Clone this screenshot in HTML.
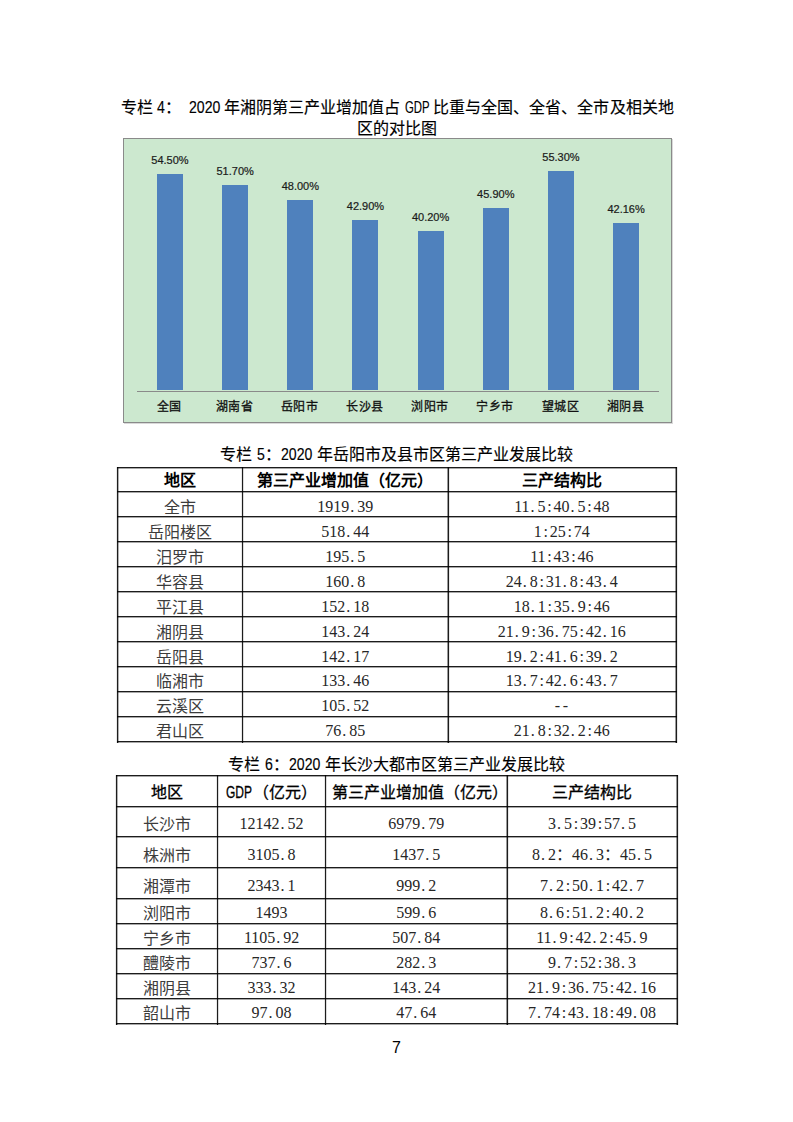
<!DOCTYPE html>
<html lang="zh-CN"><head><meta charset="utf-8">
<style>
*{margin:0;padding:0;box-sizing:border-box}
html,body{width:793px;height:1122px;background:#fff;overflow:hidden}
body{position:relative;font-family:"Liberation Sans",sans-serif;color:#000}
.abs{position:absolute;white-space:nowrap}
.t{font-size:16px;line-height:16px;-webkit-text-stroke:0.15px #000}
.d{display:inline-block;font-size:16px;transform:scaleX(.88);transform-origin:0 0;position:relative;top:-0.5px}
.d1{margin-right:-1.07px}.d4{margin-right:-4.27px}
.chart{position:absolute;left:123px;top:138px;width:549px;height:285px;background:#cce8cf;border:1px solid #8a8a8a;box-shadow:1px 1px 0 rgba(0,0,0,.15)}
.bar{position:absolute;background:#4f81bd}
.vl{position:absolute;font-size:11px;line-height:11px;color:#1a1a1a;-webkit-text-stroke:0.2px #1a1a1a;text-align:center;width:60px}
.cl{position:absolute;font-size:12px;line-height:12px;color:#111;-webkit-text-stroke:0.3px #111;letter-spacing:0.5px;text-align:center;width:64px}
.hl{position:absolute;background:linear-gradient(rgba(0,0,0,.89) 50%,rgba(0,0,0,.34) 50%);height:2px}
.vln{position:absolute;background:rgba(0,0,0,.89);width:1px}
.cell{position:absolute;display:flex;align-items:center;justify-content:center;font-size:16px;line-height:16px;white-space:nowrap}
.ser{font-family:"Liberation Serif",serif;color:#262626}
.b{font-weight:bold}
.sh{-webkit-text-stroke:0.3px #000}
.lft{justify-content:flex-start;padding-left:6px}
i.p{display:inline-block;width:8px;text-align:left;padding-left:1px;font-style:normal}
b.cj{font-weight:normal;color:#3c3c3c}
i.pc{display:inline-block;width:8px;text-align:center;font-style:normal}
i.fc{display:inline-block;width:16px;text-align:left;font-style:normal}
</style></head><body>

<div class="abs t" style="left:120.5px;top:100px">专栏 <span class="d d1">4</span>：</div>
<div class="abs t" style="left:188.5px;top:100px"><span class="d d4">2020</span> 年湘阴第三产业增加值占</div>
<div class="abs t" style="left:405px;top:100px"><span class="d" style="transform:scaleX(0.71)">GDP</span></div>
<div class="abs t" style="left:432.5px;top:100px;letter-spacing:0.1px">比重与全国、全省、全市及相关地</div>
<div class="abs t" style="left:0;width:793px;text-align:center;top:121px">区的对比图</div>
<div class="chart"></div>
<div class="bar" style="left:156.98px;top:174.03px;width:26.00px;height:216.47px"></div>
<div class="vl" style="left:139.98px;top:155.23px">54.50%</div>
<div class="cl" style="left:137.38px;top:400.50px">全国</div>
<div class="bar" style="left:222.14px;top:185.15px;width:26.00px;height:205.35px"></div>
<div class="vl" style="left:205.14px;top:166.35px">51.70%</div>
<div class="cl" style="left:202.54px;top:400.50px">湖南省</div>
<div class="bar" style="left:287.30px;top:199.84px;width:26.00px;height:190.66px"></div>
<div class="vl" style="left:270.30px;top:181.04px">48.00%</div>
<div class="cl" style="left:267.70px;top:400.50px">岳阳市</div>
<div class="bar" style="left:352.46px;top:220.10px;width:26.00px;height:170.40px"></div>
<div class="vl" style="left:335.46px;top:201.30px">42.90%</div>
<div class="cl" style="left:332.86px;top:400.50px">长沙县</div>
<div class="bar" style="left:417.62px;top:230.83px;width:26.00px;height:159.67px"></div>
<div class="vl" style="left:400.62px;top:212.03px">40.20%</div>
<div class="cl" style="left:398.02px;top:400.50px">浏阳市</div>
<div class="bar" style="left:482.78px;top:208.19px;width:26.00px;height:182.31px"></div>
<div class="vl" style="left:465.78px;top:189.39px">45.90%</div>
<div class="cl" style="left:463.18px;top:400.50px">宁乡市</div>
<div class="bar" style="left:547.94px;top:170.85px;width:26.00px;height:219.65px"></div>
<div class="vl" style="left:530.94px;top:152.05px">55.30%</div>
<div class="cl" style="left:528.34px;top:400.50px">望城区</div>
<div class="bar" style="left:613.10px;top:223.04px;width:26.00px;height:167.46px"></div>
<div class="vl" style="left:596.10px;top:204.24px">42.16%</div>
<div class="cl" style="left:593.50px;top:400.50px">湘阴县</div>
<div style="position:absolute;left:137px;top:391px;width:522px;height:1px;background:#8a8a8a"></div>
<div class="abs t" style="left:0;width:793px;text-align:center;top:447px">专栏 <span class="d d1">5</span>：<span class="d d4">2020</span> 年岳阳市及县市区第三产业发展比较</div>
<div class="hl" style="left:117px;top:467px;width:560px"></div>
<div class="hl" style="left:117px;top:491px;width:560px"></div>
<div class="hl" style="left:117px;top:516px;width:560px"></div>
<div class="hl" style="left:117px;top:541px;width:560px"></div>
<div class="hl" style="left:117px;top:566px;width:560px"></div>
<div class="hl" style="left:117px;top:591px;width:560px"></div>
<div class="hl" style="left:117px;top:616px;width:560px"></div>
<div class="hl" style="left:117px;top:641px;width:560px"></div>
<div class="hl" style="left:117px;top:666px;width:560px"></div>
<div class="hl" style="left:117px;top:691px;width:560px"></div>
<div class="hl" style="left:117px;top:716px;width:560px"></div>
<div class="hl" style="left:117px;top:741px;width:560px"></div>
<div class="vln" style="left:117px;top:467px;height:276px;box-shadow:1px 0 0 rgba(0,0,0,.31),-1px 0 0 rgba(0,0,0,.09)"></div>
<div class="vln" style="left:242px;top:467px;height:276px;box-shadow:1px 0 0 rgba(0,0,0,.14),-1px 0 0 rgba(0,0,0,.09)"></div>
<div class="vln" style="left:448px;top:467px;height:276px;box-shadow:-1px 0 0 rgba(0,0,0,.4),1px 0 0 rgba(0,0,0,.09)"></div>
<div class="vln" style="left:676px;top:467px;height:276px;box-shadow:-1px 0 0 rgba(0,0,0,.4),1px 0 0 rgba(0,0,0,.09)"></div>
<div class="cell b" style="left:117.5px;top:468.0px;width:125.1px;height:23.8px"><span style="position:relative;top:1.5px">地区</span></div>
<div class="cell b" style="left:242.6px;top:468.0px;width:205.3px;height:23.8px"><span style="position:relative;top:1.5px">第三产业增加值（亿元）</span></div>
<div class="cell b" style="left:447.9px;top:468.0px;width:227.9px;height:23.8px"><span style="position:relative;top:1.5px">三产结构比</span></div>
<div class="cell ser" style="left:117.5px;top:491.8px;width:125.1px;height:24.9px"><span style="position:relative;top:3.5px"><b class="cj">全市</b></span></div>
<div class="cell ser" style="left:242.6px;top:491.8px;width:205.3px;height:24.9px"><span style="position:relative;top:2.5px">1919<i class="p">.</i>39</span></div>
<div class="cell ser" style="left:447.9px;top:491.8px;width:227.9px;height:24.9px"><span style="position:relative;top:2.5px">11<i class="p">.</i>5<i class="pc">:</i>40<i class="p">.</i>5<i class="pc">:</i>48</span></div>
<div class="cell ser" style="left:117.5px;top:516.8px;width:125.1px;height:25.0px"><span style="position:relative;top:3.5px"><b class="cj">岳阳楼区</b></span></div>
<div class="cell ser" style="left:242.6px;top:516.8px;width:205.3px;height:25.0px"><span style="position:relative;top:2.5px">518<i class="p">.</i>44</span></div>
<div class="cell ser" style="left:447.9px;top:516.8px;width:227.9px;height:25.0px"><span style="position:relative;top:2.5px">1<i class="pc">:</i>25<i class="pc">:</i>74</span></div>
<div class="cell ser" style="left:117.5px;top:541.7px;width:125.1px;height:24.9px"><span style="position:relative;top:3.5px"><b class="cj">汨罗市</b></span></div>
<div class="cell ser" style="left:242.6px;top:541.7px;width:205.3px;height:24.9px"><span style="position:relative;top:2.5px">195<i class="p">.</i>5</span></div>
<div class="cell ser" style="left:447.9px;top:541.7px;width:227.9px;height:24.9px"><span style="position:relative;top:2.5px">11<i class="pc">:</i>43<i class="pc">:</i>46</span></div>
<div class="cell ser" style="left:117.5px;top:566.6px;width:125.1px;height:25.0px"><span style="position:relative;top:3.5px"><b class="cj">华容县</b></span></div>
<div class="cell ser" style="left:242.6px;top:566.6px;width:205.3px;height:25.0px"><span style="position:relative;top:2.5px">160<i class="p">.</i>8</span></div>
<div class="cell ser" style="left:447.9px;top:566.6px;width:227.9px;height:25.0px"><span style="position:relative;top:2.5px">24<i class="p">.</i>8<i class="pc">:</i>31<i class="p">.</i>8<i class="pc">:</i>43<i class="p">.</i>4</span></div>
<div class="cell ser" style="left:117.5px;top:591.6px;width:125.1px;height:24.9px"><span style="position:relative;top:3.5px"><b class="cj">平江县</b></span></div>
<div class="cell ser" style="left:242.6px;top:591.6px;width:205.3px;height:24.9px"><span style="position:relative;top:2.5px">152<i class="p">.</i>18</span></div>
<div class="cell ser" style="left:447.9px;top:591.6px;width:227.9px;height:24.9px"><span style="position:relative;top:2.5px">18<i class="p">.</i>1<i class="pc">:</i>35<i class="p">.</i>9<i class="pc">:</i>46</span></div>
<div class="cell ser" style="left:117.5px;top:616.5px;width:125.1px;height:25.0px"><span style="position:relative;top:3.5px"><b class="cj">湘阴县</b></span></div>
<div class="cell ser" style="left:242.6px;top:616.5px;width:205.3px;height:25.0px"><span style="position:relative;top:2.5px">143<i class="p">.</i>24</span></div>
<div class="cell ser" style="left:447.9px;top:616.5px;width:227.9px;height:25.0px"><span style="position:relative;top:2.5px">21<i class="p">.</i>9<i class="pc">:</i>36<i class="p">.</i>75<i class="pc">:</i>42<i class="p">.</i>16</span></div>
<div class="cell ser" style="left:117.5px;top:641.5px;width:125.1px;height:25.0px"><span style="position:relative;top:3.5px"><b class="cj">岳阳县</b></span></div>
<div class="cell ser" style="left:242.6px;top:641.5px;width:205.3px;height:25.0px"><span style="position:relative;top:2.5px">142<i class="p">.</i>17</span></div>
<div class="cell ser" style="left:447.9px;top:641.5px;width:227.9px;height:25.0px"><span style="position:relative;top:2.5px">19<i class="p">.</i>2<i class="pc">:</i>41<i class="p">.</i>6<i class="pc">:</i>39<i class="p">.</i>2</span></div>
<div class="cell ser" style="left:117.5px;top:666.5px;width:125.1px;height:24.9px"><span style="position:relative;top:3.5px"><b class="cj">临湘市</b></span></div>
<div class="cell ser" style="left:242.6px;top:666.5px;width:205.3px;height:24.9px"><span style="position:relative;top:2.5px">133<i class="p">.</i>46</span></div>
<div class="cell ser" style="left:447.9px;top:666.5px;width:227.9px;height:24.9px"><span style="position:relative;top:2.5px">13<i class="p">.</i>7<i class="pc">:</i>42<i class="p">.</i>6<i class="pc">:</i>43<i class="p">.</i>7</span></div>
<div class="cell ser" style="left:117.5px;top:691.4px;width:125.1px;height:25.0px"><span style="position:relative;top:3.5px"><b class="cj">云溪区</b></span></div>
<div class="cell ser" style="left:242.6px;top:691.4px;width:205.3px;height:25.0px"><span style="position:relative;top:2.5px">105<i class="p">.</i>52</span></div>
<div class="cell ser" style="left:447.9px;top:691.4px;width:227.9px;height:25.0px"><span style="position:relative;top:2.5px"><i class="p">-</i><i class="p">-</i></span></div>
<div class="cell ser" style="left:117.5px;top:716.4px;width:125.1px;height:24.9px"><span style="position:relative;top:3.5px"><b class="cj">君山区</b></span></div>
<div class="cell ser" style="left:242.6px;top:716.4px;width:205.3px;height:24.9px"><span style="position:relative;top:2.5px">76<i class="p">.</i>85</span></div>
<div class="cell ser" style="left:447.9px;top:716.4px;width:227.9px;height:24.9px"><span style="position:relative;top:2.5px">21<i class="p">.</i>8<i class="pc">:</i>32<i class="p">.</i>2<i class="pc">:</i>46</span></div>
<div class="abs t" style="left:0;width:793px;text-align:center;top:757px">专栏 <span class="d d1">6</span>：<span class="d d4">2020</span> 年长沙大都市区第三产业发展比较</div>
<div class="hl" style="left:116px;top:775px;width:562px"></div>
<div class="hl" style="left:116px;top:806px;width:562px"></div>
<div class="hl" style="left:116px;top:836px;width:562px"></div>
<div class="hl" style="left:116px;top:867px;width:562px"></div>
<div class="hl" style="left:116px;top:898px;width:562px"></div>
<div class="hl" style="left:116px;top:923px;width:562px"></div>
<div class="hl" style="left:116px;top:948px;width:562px"></div>
<div class="hl" style="left:116px;top:973px;width:562px"></div>
<div class="hl" style="left:116px;top:998px;width:562px"></div>
<div class="hl" style="left:116px;top:1023px;width:562px"></div>
<div class="vln" style="left:116px;top:775px;height:250px;box-shadow:1px 0 0 rgba(0,0,0,.31),-1px 0 0 rgba(0,0,0,.09)"></div>
<div class="vln" style="left:217px;top:775px;height:250px;box-shadow:1px 0 0 rgba(0,0,0,.14),-1px 0 0 rgba(0,0,0,.09)"></div>
<div class="vln" style="left:325px;top:775px;height:250px;box-shadow:1px 0 0 rgba(0,0,0,.14),-1px 0 0 rgba(0,0,0,.09)"></div>
<div class="vln" style="left:507px;top:775px;height:250px;box-shadow:-1px 0 0 rgba(0,0,0,.4),1px 0 0 rgba(0,0,0,.09)"></div>
<div class="vln" style="left:677px;top:775px;height:250px;box-shadow:-1px 0 0 rgba(0,0,0,.4),1px 0 0 rgba(0,0,0,.09)"></div>
<div class="cell sh" style="left:116.6px;top:776.0px;width:101.0px;height:30.3px"><span style="position:relative;top:2.3px">地区</span></div>
<div class="cell sh" style="left:217.6px;top:776.0px;width:108.0px;height:30.3px"><span style="position:relative;top:2.3px"><span style="display:inline-block;transform:scaleX(0.75);transform-origin:0 0;margin-right:-8px">GDP</span>（亿元）</span></div>
<div class="cell lft sh" style="left:325.6px;top:776.0px;width:181.4px;height:30.3px"><span style="position:relative;top:2.3px">第三产业增加值（亿元）</span></div>
<div class="cell sh" style="left:507.0px;top:776.0px;width:169.8px;height:30.3px"><span style="position:relative;top:2.3px">三产结构比</span></div>
<div class="cell ser" style="left:116.6px;top:806.3px;width:101.0px;height:30.8px"><span style="position:relative;top:3.5px"><b class="cj">长沙市</b></span></div>
<div class="cell ser" style="left:217.6px;top:806.3px;width:108.0px;height:30.8px"><span style="position:relative;top:2.5px">12142<i class="p">.</i>52</span></div>
<div class="cell ser" style="left:325.6px;top:806.3px;width:181.4px;height:30.8px"><span style="position:relative;top:2.5px">6979<i class="p">.</i>79</span></div>
<div class="cell ser" style="left:507.0px;top:806.3px;width:169.8px;height:30.8px"><span style="position:relative;top:2.5px">3<i class="p">.</i>5<i class="pc">:</i>39<i class="pc">:</i>57<i class="p">.</i>5</span></div>
<div class="cell ser" style="left:116.6px;top:837.1px;width:101.0px;height:30.9px"><span style="position:relative;top:3.5px"><b class="cj">株洲市</b></span></div>
<div class="cell ser" style="left:217.6px;top:837.1px;width:108.0px;height:30.9px"><span style="position:relative;top:2.5px">3105<i class="p">.</i>8</span></div>
<div class="cell ser" style="left:325.6px;top:837.1px;width:181.4px;height:30.9px"><span style="position:relative;top:2.5px">1437<i class="p">.</i>5</span></div>
<div class="cell ser" style="left:507.0px;top:837.1px;width:169.8px;height:30.9px"><span style="position:relative;top:2.5px">8<i class="p">.</i>2<i class="fc">：</i>46<i class="p">.</i>3<i class="fc">：</i>45<i class="p">.</i>5</span></div>
<div class="cell ser" style="left:116.6px;top:868.0px;width:101.0px;height:30.8px"><span style="position:relative;top:3.5px"><b class="cj">湘潭市</b></span></div>
<div class="cell ser" style="left:217.6px;top:868.0px;width:108.0px;height:30.8px"><span style="position:relative;top:2.5px">2343<i class="p">.</i>1</span></div>
<div class="cell ser" style="left:325.6px;top:868.0px;width:181.4px;height:30.8px"><span style="position:relative;top:2.5px">999<i class="p">.</i>2</span></div>
<div class="cell ser" style="left:507.0px;top:868.0px;width:169.8px;height:30.8px"><span style="position:relative;top:2.5px">7<i class="p">.</i>2<i class="pc">:</i>50<i class="p">.</i>1<i class="pc">:</i>42<i class="p">.</i>7</span></div>
<div class="cell ser" style="left:116.6px;top:898.8px;width:101.0px;height:24.9px"><span style="position:relative;top:3.0px"><b class="cj">浏阳市</b></span></div>
<div class="cell ser" style="left:217.6px;top:898.8px;width:108.0px;height:24.9px"><span style="position:relative;top:1.5px">1493</span></div>
<div class="cell ser" style="left:325.6px;top:898.8px;width:181.4px;height:24.9px"><span style="position:relative;top:1.5px">599<i class="p">.</i>6</span></div>
<div class="cell ser" style="left:507.0px;top:898.8px;width:169.8px;height:24.9px"><span style="position:relative;top:1.5px">8<i class="p">.</i>6<i class="pc">:</i>51<i class="p">.</i>2<i class="pc">:</i>40<i class="p">.</i>2</span></div>
<div class="cell ser" style="left:116.6px;top:923.7px;width:101.0px;height:25.2px"><span style="position:relative;top:3.0px"><b class="cj">宁乡市</b></span></div>
<div class="cell ser" style="left:217.6px;top:923.7px;width:108.0px;height:25.2px"><span style="position:relative;top:1.5px">1105<i class="p">.</i>92</span></div>
<div class="cell ser" style="left:325.6px;top:923.7px;width:181.4px;height:25.2px"><span style="position:relative;top:1.5px">507<i class="p">.</i>84</span></div>
<div class="cell ser" style="left:507.0px;top:923.7px;width:169.8px;height:25.2px"><span style="position:relative;top:1.5px">11<i class="p">.</i>9<i class="pc">:</i>42<i class="p">.</i>2<i class="pc">:</i>45<i class="p">.</i>9</span></div>
<div class="cell ser" style="left:116.6px;top:948.9px;width:101.0px;height:24.8px"><span style="position:relative;top:3.0px"><b class="cj">醴陵市</b></span></div>
<div class="cell ser" style="left:217.6px;top:948.9px;width:108.0px;height:24.8px"><span style="position:relative;top:1.5px">737<i class="p">.</i>6</span></div>
<div class="cell ser" style="left:325.6px;top:948.9px;width:181.4px;height:24.8px"><span style="position:relative;top:1.5px">282<i class="p">.</i>3</span></div>
<div class="cell ser" style="left:507.0px;top:948.9px;width:169.8px;height:24.8px"><span style="position:relative;top:1.5px">9<i class="p">.</i>7<i class="pc">:</i>52<i class="pc">:</i>38<i class="p">.</i>3</span></div>
<div class="cell ser" style="left:116.6px;top:973.7px;width:101.0px;height:25.0px"><span style="position:relative;top:3.0px"><b class="cj">湘阴县</b></span></div>
<div class="cell ser" style="left:217.6px;top:973.7px;width:108.0px;height:25.0px"><span style="position:relative;top:1.5px">333<i class="p">.</i>32</span></div>
<div class="cell ser" style="left:325.6px;top:973.7px;width:181.4px;height:25.0px"><span style="position:relative;top:1.5px">143<i class="p">.</i>24</span></div>
<div class="cell ser" style="left:507.0px;top:973.7px;width:169.8px;height:25.0px"><span style="position:relative;top:1.5px">21<i class="p">.</i>9<i class="pc">:</i>36<i class="p">.</i>75<i class="pc">:</i>42<i class="p">.</i>16</span></div>
<div class="cell ser" style="left:116.6px;top:998.7px;width:101.0px;height:24.9px"><span style="position:relative;top:3.0px"><b class="cj">韶山市</b></span></div>
<div class="cell ser" style="left:217.6px;top:998.7px;width:108.0px;height:24.9px"><span style="position:relative;top:1.5px">97<i class="p">.</i>08</span></div>
<div class="cell ser" style="left:325.6px;top:998.7px;width:181.4px;height:24.9px"><span style="position:relative;top:1.5px">47<i class="p">.</i>64</span></div>
<div class="cell ser" style="left:507.0px;top:998.7px;width:169.8px;height:24.9px"><span style="position:relative;top:1.5px">7<i class="p">.</i>74<i class="pc">:</i>43<i class="p">.</i>18<i class="pc">:</i>49<i class="p">.</i>08</span></div>
<div class="abs" style="left:0;width:793px;text-align:center;top:1040px;font-size:16px;line-height:16px">7</div>
</body></html>
